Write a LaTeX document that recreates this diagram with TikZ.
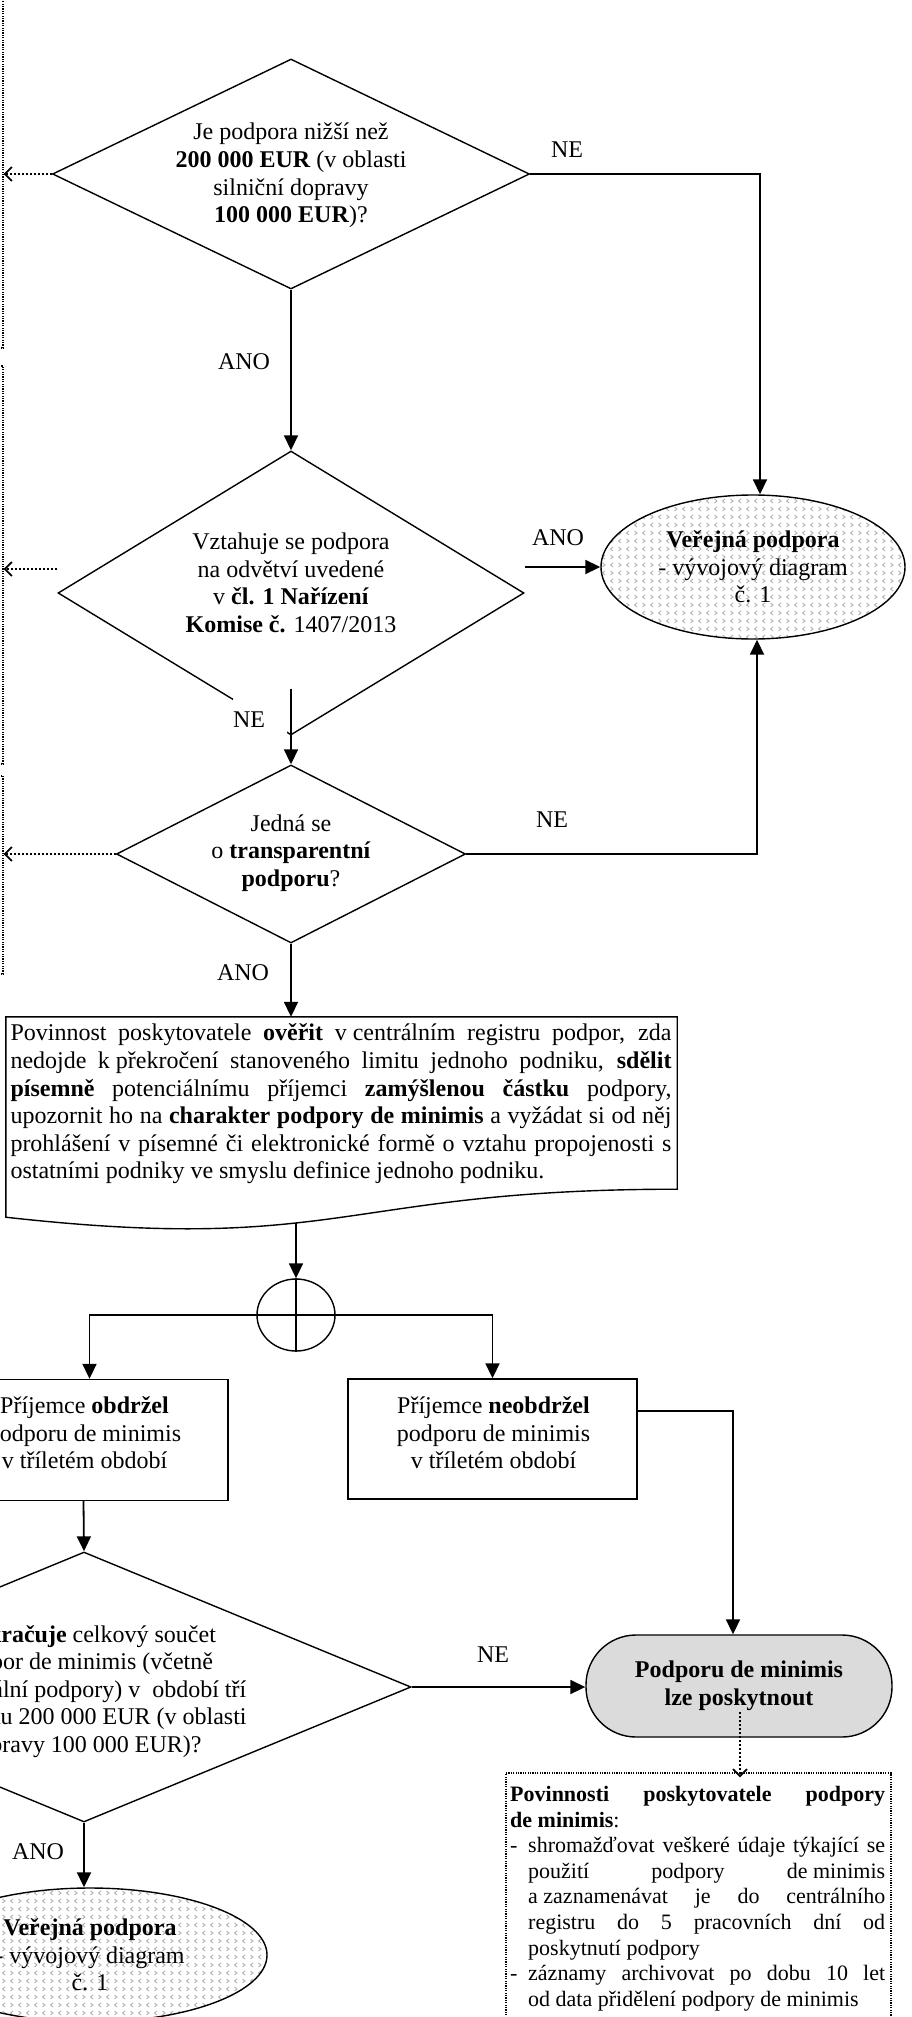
\documentclass[tikz,border=0pt]{standalone}
\usepackage{fontspec}
\setmainfont{Liberation Serif}
\usetikzlibrary{shapes.geometric,arrows.meta,patterns,calc}

\pgfdeclarepatternformonly{divot}{\pgfqpoint{-1pt}{-1pt}}{\pgfqpoint{17pt}{17pt}}{\pgfqpoint{16pt}{16pt}}{%
  \pgfsetlinewidth{0.9pt}%
  \pgfpathmoveto{\pgfqpoint{5pt}{14pt}}\pgfpathlineto{\pgfqpoint{2.5pt}{12pt}}\pgfpathlineto{\pgfqpoint{5pt}{10pt}}%
  \pgfpathmoveto{\pgfqpoint{10.5pt}{14pt}}\pgfpathlineto{\pgfqpoint{13pt}{12pt}}\pgfpathlineto{\pgfqpoint{10.5pt}{10pt}}%
  \pgfpathmoveto{\pgfqpoint{2.5pt}{6pt}}\pgfpathlineto{\pgfqpoint{5pt}{4pt}}\pgfpathlineto{\pgfqpoint{2.5pt}{2pt}}%
  \pgfpathmoveto{\pgfqpoint{13pt}{6pt}}\pgfpathlineto{\pgfqpoint{10.5pt}{4pt}}\pgfpathlineto{\pgfqpoint{13pt}{2pt}}%
  \pgfusepath{stroke}}

\tikzset{
  base/.style={font=\fontsize{24}{27.6}\selectfont},
  shp/.style={draw, line width=1.4pt},
  dia/.style={shp, diamond, inner sep=0pt},
  txt/.style={base, align=center, inner sep=0pt},
  oval/.style={shp, ellipse, inner sep=0pt, pattern=divot, pattern color=black!30, txt},
  lbl/.style={base, inner sep=0pt},
  arr/.style={line width=1.8pt, -{Triangle[length=15pt,width=14pt]}},
  dotarr/.style={line width=2pt, dash pattern=on 2pt off 2pt, -{Straight Barb[length=7pt,width=14pt,line width=1.8pt]}},
  dotbox/.style={draw, line width=1.2pt, dash pattern=on 1.2pt off 1.2pt},
}

\begin{document}
\begin{tikzpicture}[x=1pt,y=-1pt]
\useasboundingbox (0,0) rectangle (912,2017);
\clip (0,0) rectangle (912,2017);

% boxes cut off at the left edge
\node[dotbox, minimum width=300pt, minimum height=398pt, inner sep=0pt] (lb1) at (-147,149) {};
\node[dotbox, minimum width=300pt, minimum height=398pt, inner sep=0pt] (lb2) at (-147,565) {};
\node[dotbox, minimum width=300pt, minimum height=198pt, inner sep=0pt] (lb3) at (-147,875) {};

% decision 1
\node[dia, minimum width=477pt, minimum height=230pt] (d1) at (291,174) {};
\node[txt] (d1t) at (291,175.5) {Je podpora nižší než\\\textbf{200 000 EUR} (v oblasti\\silniční dopravy\\\textbf{100 000 EUR})?};

% decision 2
\node[dia, minimum width=466pt, minimum height=284pt] (d2) at (291,593) {};
\node[txt] (d2t) at (291,583) {Vztahuje se podpora\\na odvětví uvedené\\v \textbf{čl. 1 Nařízení}\\\textbf{Komise č.} 1407/2013};
\node[lbl, fill=white, text width=54pt, align=left, inner xsep=0pt, minimum height=41pt] (ne2) at (260,719.5) {NE};

% decision 3
\node[dia, minimum width=349pt, minimum height=178pt] (d3) at (291,854) {};
\node[txt] (d3t) at (291,853) {Jedná se\\o \textbf{transparentní}\\\textbf{podporu}?};

% public support oval 1
\node[oval, minimum width=304pt, minimum height=144pt] (e1) at (753,567) {\textbf{Veřejná podpora}\\- vývojový diagram\\č. 1};

% document box
\node[minimum width=671pt, minimum height=172pt, inner sep=0pt] (doc) at (341.5,1103) {};
\draw[shp] (doc.north west) -- (doc.north east) -- (doc.south east)
  .. controls (doc.south) and ($(doc.south)+(0,65.5)$) .. ($(doc.south west)+(0,28)$) -- cycle;
\coordinate (docb) at (296,1223);
\node[base, inner sep=0pt] (doct) at (341,1104) {\vbox{%
\hbox to 661pt{Povinnost poskytovatele \textbf{ověřit} \mbox{v centrálním} registru podpor, zda}
\hbox to 661pt{nedojde \mbox{k překročení} stanoveného limitu jednoho podniku, \textbf{sdělit}}
\hbox to 661pt{\textbf{písemně} potenciálnímu příjemci \textbf{zamýšlenou částku} podpory,}
\hbox to 661pt{upozornit ho na \textbf{charakter podpory de minimis} a vyžádat si od něj}
\hbox to 661pt{prohlášení v písemné či elektronické formě o vztahu propojenosti s}
\hbox to 661pt{ostatními podniky ve smyslu definice jednoho podniku.\hfil}}};

% junction
\node[shp, ellipse, minimum width=78pt, minimum height=72pt, inner sep=0pt] (jn) at (296,1315) {};
\draw[shp] (jn.north) -- (jn.south) (jn.west) -- (jn.east);

% recipient boxes
\node[shp, minimum width=289pt, minimum height=121pt, inner sep=0pt] (lbox) at (83.5,1440) {};
\node[txt] (lboxt) at (84.5,1433) {Příjemce \textbf{obdržel}\\podporu de minimis\\v tříletém období};
\node[shp, minimum width=289pt, minimum height=120pt, inner sep=0pt] (rbox) at (492.5,1439) {};
\node[txt] (rboxt) at (493.5,1433) {Příjemce \textbf{neobdržel}\\podporu de minimis\\v tříletém období};

% decision 4
\node[dia, minimum width=654pt, minimum height=270pt] (d4) at (84,1687) {};
\node[txt] (d4t) at (84,1691.5) {\textbf{Překračuje} celkový součet\\podpor de minimis (včetně\\potenciální podpory) v~\ období tří\\let částku 200 000 EUR (v oblasti\\dopravy 100 000 EUR)?};

% terminal
\node[shp, fill=black!14, rounded corners=50pt, minimum width=306pt, minimum height=102pt, txt] (rr) at (739,1686) {\textbf{Podporu de minimis}\\\textbf{lze poskytnout}};

% obligations box
\node[dotbox, minimum width=385pt, minimum height=280pt, inner sep=0pt] (dbox) at (698.5,1913) {};
\node[anchor=north west, inner sep=0pt, font=\fontsize{22}{25.6}\selectfont] (dboxt) at (510,1786) {\vbox{%
\hbox to 375pt{\textbf{Povinnosti poskytovatele podpory}}
\hbox{\textbf{de minimis}:}
\hbox to 375pt{\makebox[18pt][l]{-}shromažďovat veškeré údaje týkající se}
\hbox to 375pt{\hspace*{18pt}použití podpory \mbox{de minimis}}
\hbox to 375pt{\hspace*{18pt}\mbox{a zaznamenávat} je do centrálního}
\hbox to 375pt{\hspace*{18pt}registru do 5 pracovních dní od}
\hbox{\hspace*{18pt}poskytnutí podpory}
\hbox to 375pt{\makebox[18pt][l]{-}záznamy archivovat po dobu 10 let}
\hbox{\hspace*{18pt}od data přidělení podpory de minimis}}};

% public support oval 2
\node[oval, minimum width=354pt, minimum height=134pt] (e2) at (90,1955) {\textbf{Veřejná podpora}\\- vývojový diagram\\č. 1};

% labels
\node[lbl] (ne1) at (567,150) {NE};
\node[lbl] (ano1) at (244,362) {ANO};
\node[lbl] (ano2) at (558,538) {ANO};
\node[lbl] (ne3) at (552,820) {NE};
\node[lbl] (ano3) at (243,973) {ANO};
\node[lbl] (ne4) at (493,1655) {NE};
\node[lbl] (ano4) at (38,1852) {ANO};

% connectors
\draw[arr] (d1.east) -| ([xshift=7pt]e1.north);
\draw[arr] (d1.south) -- (d2.north);
\draw[arr] (d2.east |- e1.west) -- (e1.west);
\draw[arr] ([yshift=47pt]d2.south) -- (d3.north);
\draw[arr] (d3.east) -| ([xshift=4pt]e1.south);
\draw[arr] (d3.south) -- (d3.south |- doc.north);
\draw[arr] (docb) -- (jn.north);
\draw[arr] (jn.west) -| ([xshift=6pt]lbox.north);
\draw[arr] (jn.east) -| (rbox.north);
\draw[arr] ([yshift=28pt]rbox.east) -| ([xshift=-6pt]rr.north);
\draw[arr] (lbox.south) -- (d4.north);
\draw[arr] (d4.east) -- (d4.east -| rr.west);
\draw[arr] (d4.south) -- (d4.south |- e2.north);

% dotted connectors
\draw[dotarr] (d1.west) -- (d1.west -| lb1.east);
\draw[dotarr] ([yshift=24pt]d2.west) -- ([yshift=24pt]d2.west -| lb2.east);
\draw[dotarr] (d3.west) -- (d3.west -| lb3.east);
\draw[dotarr] ($(rr.center)+(1,26)$) -- ($(rr.center |- dbox.north)+(1,5)$);
\end{tikzpicture}
\end{document}
